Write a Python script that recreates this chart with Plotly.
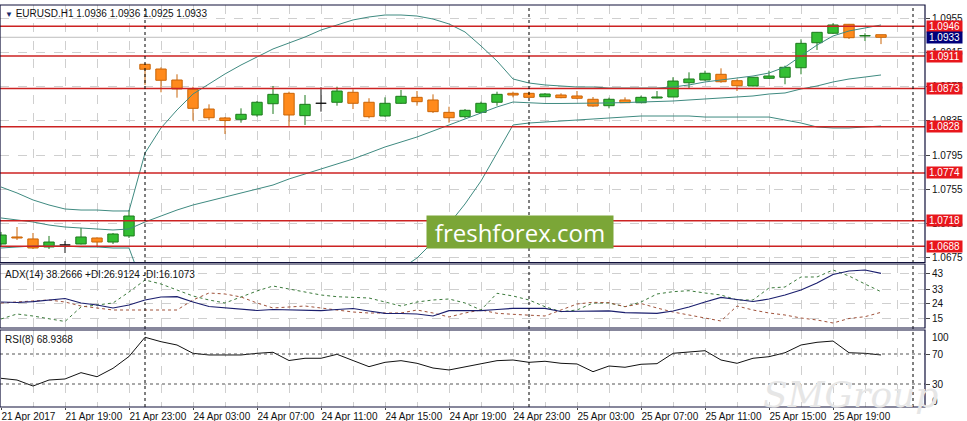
import plotly.graph_objects as go

# ---------------- data ----------------
times = ([f"21 Apr {h:02d}:00" for h in range(15, 24)] +
         [f"24 Apr {h:02d}:00" for h in range(0, 24)] +
         [f"25 Apr {h:02d}:00" for h in range(0, 23)])

opens = [1.06907, 1.06989, 1.06966, 1.06872, 1.06895, 1.06907, 1.06977, 1.06930, 1.07001,
         1.09013, 1.08958, 1.08829, 1.08720, 1.08489, 1.08384, 1.08368, 1.08419, 1.08551,
         1.08673, 1.08411, 1.08556, 1.08568, 1.08685, 1.08568, 1.08407, 1.08556, 1.08626,
         1.08595, 1.08450, 1.08399, 1.08450, 1.08568, 1.08673, 1.08673, 1.08633, 1.08653,
         1.08642, 1.08603, 1.08528, 1.08595, 1.08563, 1.08618, 1.08630, 1.08797, 1.08829,
         1.08896, 1.08821, 1.08759, 1.08849, 1.08861, 1.08973, 1.09266, 1.09377, 1.09482,
         1.09345, 1.09360]
highs = [1.07048, 1.07106, 1.07036, 1.07001, 1.06942, 1.07095, 1.06985, 1.07036, 1.07306,
         1.09023, 1.08978, 1.08896, 1.08751, 1.08544, 1.08395, 1.08497, 1.08583, 1.08759,
         1.08692, 1.08653, 1.08744, 1.08751, 1.08720, 1.08615, 1.08626, 1.08712, 1.08700,
         1.08661, 1.08516, 1.08489, 1.08575, 1.08692, 1.08692, 1.08692, 1.08675, 1.08673,
         1.08700, 1.08630, 1.08622, 1.08626, 1.08645, 1.08700, 1.08861, 1.08919, 1.08938,
         1.08966, 1.08837, 1.08864, 1.08938, 1.08997, 1.09306, 1.09392, 1.09494, 1.09486,
         1.09377, 1.09360]
lows = [1.06884, 1.06954, 1.06848, 1.06848, 1.06801, 1.06901, 1.06872, 1.06907, 1.06977,
        1.08771, 1.08685, 1.08622, 1.08352, 1.08357, 1.08196, 1.08329, 1.08399, 1.08431,
        1.08290, 1.08302, 1.08458, 1.08528, 1.08489, 1.08380, 1.08399, 1.08548, 1.08528,
        1.08442, 1.08329, 1.08380, 1.08439, 1.08528, 1.08626, 1.08622, 1.08630, 1.08615,
        1.08603, 1.08516, 1.08497, 1.08560, 1.08560, 1.08615, 1.08630, 1.08732, 1.08821,
        1.08797, 1.08700, 1.08755, 1.08841, 1.08779, 1.08896, 1.09181, 1.09368, 1.09310,
        1.09286, 1.09250]
closes = [1.07012, 1.06977, 1.06860, 1.06930, 1.06895, 1.06989, 1.06930, 1.07024, 1.07235,
          1.08955, 1.08826, 1.08724, 1.08497, 1.08387, 1.08354, 1.08427, 1.08568, 1.08661,
          1.08419, 1.08544, 1.08556, 1.08700, 1.08556, 1.08399, 1.08556, 1.08638, 1.08575,
          1.08458, 1.08387, 1.08474, 1.08556, 1.08661, 1.08653, 1.08626, 1.08665, 1.08622,
          1.08615, 1.08524, 1.08603, 1.08563, 1.08626, 1.08630, 1.08817, 1.08841, 1.08908,
          1.08809, 1.08762, 1.08861, 1.08876, 1.08978, 1.09259, 1.09388, 1.09474, 1.09325,
          1.09350, 1.09330]

bb_upper = [1.07575, 1.07505, 1.07423, 1.07364, 1.07317, 1.07305, 1.07305, 1.07294, 1.07294,
            1.07973, 1.08267, 1.08478, 1.08665, 1.08782, 1.08900, 1.09005, 1.09099, 1.09193,
            1.09263, 1.09333, 1.09415, 1.09474, 1.09533, 1.09568, 1.09591, 1.09591, 1.09579,
            1.09544, 1.09486, 1.09392, 1.09228, 1.09052, 1.08841, 1.08794, 1.08771, 1.08759,
            1.08747, 1.08747, 1.08735, 1.08735, 1.08735, 1.08735, 1.08747, 1.08771, 1.08806,
            1.08829, 1.08853, 1.08876, 1.08911, 1.08981, 1.09110, 1.09239, 1.09345, 1.09404,
            1.09439, 1.09474]
bb_middle = [1.07212, 1.07188, 1.07165, 1.07129, 1.07106, 1.07094, 1.07083, 1.07071, 1.07083,
             1.07165, 1.07235, 1.07305, 1.07364, 1.07411, 1.07458, 1.07505, 1.07551, 1.07598,
             1.07669, 1.07727, 1.07786, 1.07845, 1.07903, 1.07973, 1.08044, 1.08102, 1.08161,
             1.08231, 1.08302, 1.08372, 1.08442, 1.08513, 1.08571, 1.08560, 1.08554, 1.08554,
             1.08554, 1.08560, 1.08560, 1.08565, 1.08571, 1.08571, 1.08583, 1.08595, 1.08606,
             1.08618, 1.08630, 1.08642, 1.08665, 1.08677, 1.08724, 1.08759, 1.08806, 1.08841,
             1.08864, 1.08888]
bb_lower = [1.06860, 1.06872, 1.06883, 1.06883, 1.06883, 1.06872, 1.06872, 1.06860, 1.06860,
            1.06356, 1.06203, 1.06133, 1.06063, 1.06039, 1.06016, 1.06004, 1.06004, 1.06004,
            1.06074, 1.06121, 1.06157, 1.06215, 1.06274, 1.06379, 1.06496, 1.06614, 1.06743,
            1.06930, 1.07141, 1.07376, 1.07645, 1.07973, 1.08302, 1.08325, 1.08337, 1.08349,
            1.08360, 1.08372, 1.08384, 1.08395, 1.08407, 1.08407, 1.08407, 1.08407, 1.08395,
            1.08395, 1.08395, 1.08395, 1.08395, 1.08360, 1.08325, 1.08278, 1.08267, 1.08267,
            1.08278, 1.08290]

adx = [25.21, 24.90, 25.39, 26.44, 27.36, 24.60, 23.37, 21.53, 23.37, 26.44, 28.28, 28.46,
       25.21, 22.45, 21.53, 20.61, 19.99, 20.61, 20.30, 19.99, 19.87, 20.61, 21.22, 19.69,
       18.28, 18.15, 17.85, 16.62, 19.87, 19.87, 19.87, 20.61, 21.34, 21.34, 21.34, 19.38,
       19.50, 19.69, 19.81, 18.64, 18.46, 18.28, 19.69, 22.14, 25.21, 28.09, 26.74, 25.52,
       27.05, 29.50, 32.57, 36.87, 42.08, 44.23, 44.84, 42.82]
plus_di = [14.78, 17.85, 16.62, 14.78, 13.25, 22.14, 23.37, 24.60, 31.34, 38.71, 36.25, 32.57,
           28.89, 26.44, 24.60, 28.28, 31.96, 35.02, 33.18, 31.34, 29.50, 28.46, 28.28, 27.66,
           25.21, 22.75, 25.21, 26.44, 27.05, 24.60, 20.30, 30.55, 28.89, 26.44, 22.33, 19.26,
           20.30, 24.60, 24.60, 22.33, 25.21, 30.12, 31.53, 32.14, 30.73, 29.50, 26.44, 26.44,
           33.80, 34.41, 40.55, 40.55, 44.84, 41.16, 36.25, 31.53]
minus_di = [24.60, 25.21, 25.82, 26.44, 25.21, 22.75, 21.53, 20.30, 20.30, 20.30, 20.30, 20.30,
            26.44, 30.73, 30.12, 28.28, 24.60, 21.53, 22.14, 22.75, 21.53, 20.30, 19.07, 18.46,
            18.46, 18.46, 20.30, 18.46, 16.01, 18.46, 20.30, 18.28, 17.66, 17.23, 16.62, 20.30,
            23.98, 25.02, 24.78, 22.33, 24.29, 21.53, 19.07, 17.23, 15.39, 13.55, 22.75, 20.30,
            18.46, 17.23, 15.39, 14.17, 12.33, 15.09, 16.19, 18.89]
rsi = [37.6, 35.3, 27.3, 35.3, 36.7, 45.1, 39.7, 50.9, 66.7, 92.3, 86.4, 82.0, 70.9, 68.7,
       68.7, 68.7, 70.9, 72.3, 61.3, 64.3, 64.3, 69.6, 61.3, 53.1, 58.9, 61.1, 57.6, 51.3,
       48.7, 52.7, 57.6, 61.1, 62.0, 58.9, 60.3, 57.6, 56.7, 46.4, 54.0, 52.3, 56.3, 57.1,
       70.9, 72.3, 74.4, 62.0, 57.6, 64.3, 66.4, 71.7, 82.0, 85.6, 87.3, 71.7, 70.9, 68.7]

levels = [1.0946, 1.0911, 1.0873, 1.0828, 1.0774, 1.0718, 1.0688]
price_ticks = [1.0955, 1.0915, 1.0875, 1.0835, 1.0795, 1.0755, 1.0715, 1.0675]
adx_ticks = [43, 33, 24, 15]
rsi_levels = [70, 30]
tick_labels = ["21 Apr 2017", "21 Apr 19:00", "21 Apr 23:00", "24 Apr 03:00", "24 Apr 07:00",
               "24 Apr 11:00", "24 Apr 15:00", "24 Apr 19:00", "24 Apr 23:00", "25 Apr 03:00",
               "25 Apr 07:00", "25 Apr 11:00", "25 Apr 15:00", "25 Apr 19:00"]
day_separators = [9, 33, 57]

# ---------------- styles ----------------
BULL_FILL, BULL_LINE = "#33bf33", "#1d7a1d"
BEAR_FILL, BEAR_LINE = "#ff8a1c", "#c96508"
DOJI = "#111111"
BAND = "#3f8a80"
LEVEL = "#cc2222"
GRID = "#cfcfcf"
FONT = "Liberation Sans, Arial, sans-serif"

n = len(opens)
xs = list(range(n))

D_MAIN = [0.35945, 1.0]
D_ADX = [0.19652, 0.35572]
D_RSI = [0.0, 0.19154]

fig = go.Figure()

wick = {"bull": ([], []), "bear": ([], []), "doji": ([], [])}
body_base, body_h, body_fill, body_line = [], [], [], []
for i in range(n):
    o, h, l, c = opens[i], highs[i], lows[i], closes[i]
    kind = "bull" if c > o else ("bear" if c < o else "doji")
    lo_b, hi_b = min(o, c), max(o, c)
    wx, wy = wick[kind]
    wx += [i, i, None, i, i, None]
    wy += [hi_b, h, None, l, lo_b, None]
    body_base.append(lo_b)
    body_h.append(max(hi_b - lo_b, 0.00001))
    body_fill.append({"bull": BULL_FILL, "bear": BEAR_FILL, "doji": DOJI}[kind])
    body_line.append({"bull": BULL_LINE, "bear": BEAR_LINE, "doji": DOJI}[kind])

for kind, col in (("bull", BULL_LINE), ("bear", BEAR_LINE), ("doji", DOJI)):
    wx, wy = wick[kind]
    fig.add_trace(go.Scatter(x=wx, y=wy, mode="lines", line=dict(color=col, width=1),
                             hoverinfo="skip", xaxis="x", yaxis="y"))

fig.add_trace(go.Bar(x=xs, y=body_h, base=body_base, width=0.65,
                     marker=dict(color=body_fill, line=dict(color=body_line, width=1)),
                     hovertext=times, xaxis="x", yaxis="y"))

for band in (bb_upper, bb_middle, bb_lower):
    fig.add_trace(go.Scatter(x=xs, y=band, mode="lines", line=dict(color=BAND, width=1),
                             hoverinfo="skip", xaxis="x", yaxis="y"))

fig.add_trace(go.Scatter(x=xs, y=plus_di, mode="lines",
                         line=dict(color="#3b7a3b", width=1, dash="3px,3px"), xaxis="x", yaxis="y2"))
fig.add_trace(go.Scatter(x=xs, y=minus_di, mode="lines",
                         line=dict(color="#a0523a", width=1, dash="3px,3px"), xaxis="x", yaxis="y2"))
fig.add_trace(go.Scatter(x=xs, y=adx, mode="lines",
                         line=dict(color="#1b1f6e", width=1.2), xaxis="x", yaxis="y2"))

fig.add_trace(go.Scatter(x=xs, y=rsi, mode="lines", line=dict(color="#111111", width=1),
                         xaxis="x", yaxis="y3"))

shapes = []
for lv in levels:
    shapes.append(dict(type="line", xref="paper", x0=0, x1=1, yref="y", y0=lv, y1=lv,
                       line=dict(color=LEVEL, width=1.5), layer="above"))
shapes.append(dict(type="line", xref="paper", x0=0, x1=1, yref="y", y0=closes[-1], y1=closes[-1],
                   line=dict(color="#bdbdbd", width=1), layer="below"))
for lv in rsi_levels:
    shapes.append(dict(type="line", xref="paper", x0=0, x1=1, yref="y3", y0=lv, y1=lv,
                       line=dict(color="#555555", width=1, dash="3px,3px"), layer="above"))
for s in day_separators:
    shapes.append(dict(type="line", xref="x", x0=s, x1=s, yref="paper", y0=0, y1=1,
                       line=dict(color="#000000", width=1, dash="3px,3px"), layer="above"))
for d in (D_MAIN, D_ADX, D_RSI):
    shapes.append(dict(type="rect", xref="paper", x0=0, x1=1, yref="paper", y0=d[0], y1=d[1],
                       line=dict(color="#10103a", width=1.2), fillcolor="rgba(0,0,0,0)", layer="above"))

annotations = []
for lv in levels:
    annotations.append(dict(xref="paper", x=1, xanchor="left", xshift=1, yref="y", y=lv,
                            yanchor="middle", text=f"{lv:.4f}", showarrow=False,
                            bgcolor="#e8161c", font=dict(color="white", size=10, family=FONT),
                            width=35, height=11, borderpad=0))
annotations.append(dict(xref="paper", x=1, xanchor="left", xshift=1, yref="y", y=closes[-1],
                        yanchor="middle", text=f"{closes[-1]:.4f}", showarrow=False,
                        bgcolor="#00007a", font=dict(color="white", size=10, family=FONT),
                        width=35, height=11, borderpad=0))
annotations.append(dict(xref="paper", x=0, xanchor="left", xshift=3, yref="paper", y=0.98,
                        yanchor="middle", showarrow=False,
                        text="<span style='color:#1b2a6b;font-size:8px'>▼</span> EURUSD.H1 "
                             f"{opens[-1]:.4f} {highs[-1]:.4f} {lows[-1]:.4f} {closes[-1]:.4f}",
                        font=dict(size=10, color="#111111", family=FONT)))
annotations.append(dict(xref="paper", x=0, xanchor="left", xshift=3, yref="paper", y=0.3308,
                        yanchor="middle", showarrow=False,
                        text="ADX(14) 38.2666 +DI:26.9124 -DI:16.1073",
                        font=dict(size=10, color="#111111", family=FONT)))
annotations.append(dict(xref="paper", x=0, xanchor="left", xshift=3, yref="paper", y=0.1679,
                        yanchor="middle", showarrow=False, text="RSI(8) 68.9368",
                        font=dict(size=10, color="#111111", family=FONT)))
annotations.append(dict(xref="paper", x=1, xanchor="left", xshift=5, yref="paper", y=0.1741,
                        yanchor="middle", showarrow=False, text="100",
                        font=dict(size=10, color="#111111", family=FONT)))
annotations.append(dict(xref="paper", x=1, xanchor="left", xshift=5, yref="paper", y=0.0149,
                        yanchor="middle", showarrow=False, text="0",
                        font=dict(size=10, color="#111111", family=FONT)))
annotations.append(dict(xref="paper", x=0.5622, xanchor="center", yref="paper", y=0.4353,
                        yanchor="middle", showarrow=False,
                        text="freshforex.com", bgcolor="#7ba637", width=186, height=32,
                        borderpad=0, font=dict(size=24, color="white", family="Open Sans")))
annotations.append(dict(xref="paper", x=0.919, xanchor="center", yref="paper", y=0.03,
                        yanchor="middle", showarrow=False,
                        text="SMGroup", font=dict(size=36, color="#e6e6e6",
                                                  family="DejaVu Serif", style="italic")))

fig.update_layout(
    width=967, height=421,
    margin=dict(l=0, r=42, t=5, b=14),
    paper_bgcolor="white", plot_bgcolor="white",
    showlegend=False, barmode="overlay",
    font=dict(family=FONT, size=10, color="#111111"),
    shapes=shapes, annotations=annotations,
    xaxis=dict(range=[-0.0625, 57.75], anchor="y3", tickmode="array",
               tickvals=list(range(0, n, 4)), ticktext=tick_labels, tickangle=0,
               ticklabelposition="outside right", ticks="outside", ticklen=2,
               showgrid=True, gridcolor=GRID, griddash="dash", gridwidth=1,
               minor=dict(tickmode="linear", tick0=0, dtick=2, showgrid=True,
                          gridcolor=GRID, griddash="dash", ticks=""),
               zeroline=False, showline=False, fixedrange=True),
    yaxis=dict(domain=D_MAIN, range=[1.066899, 1.097083], side="right", anchor="x",
               tickmode="array", tickvals=price_ticks, tickformat=".4f",
               ticks="outside", ticklen=4, showgrid=True, gridcolor=GRID, griddash="dash",
               zeroline=False, showline=False),
    yaxis2=dict(domain=D_ADX, range=[9.26, 48.52], side="right", anchor="x",
                tickmode="array", tickvals=adx_ticks, ticks="outside", ticklen=4,
                showgrid=True, gridcolor=GRID, griddash="dash", zeroline=False, showline=False),
    yaxis3=dict(domain=D_RSI, range=[-0.67, 102], side="right", anchor="x",
                tickmode="array", tickvals=rsi_levels, ticks="outside", ticklen=4,
                showgrid=False, zeroline=False, showline=False),
)

fig.write_html("out.html", config={"displayModeBar": False},
               post_script="document.body.style.margin='0';document.body.style.overflow='hidden';")
